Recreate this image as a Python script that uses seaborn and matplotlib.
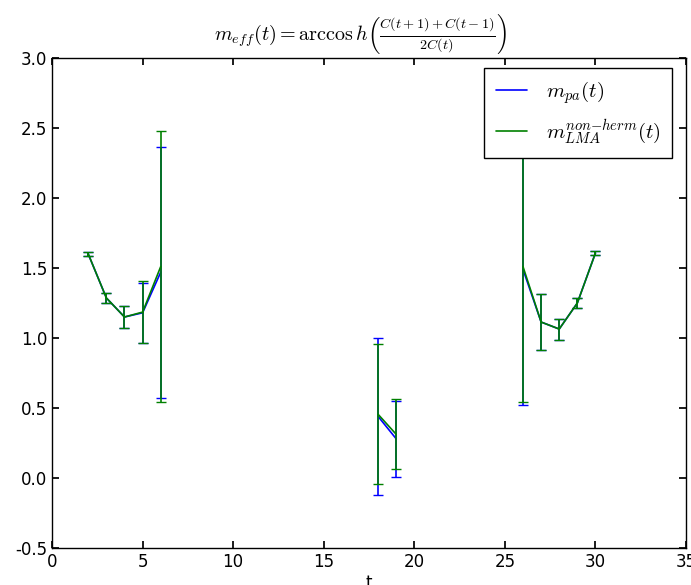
import numpy as np
import pandas as pd
import matplotlib
matplotlib.use("Agg")
import matplotlib.pyplot as plt
from matplotlib.lines import Line2D
import seaborn as sns

# Effective mass per time slice; NaN marks slices where arccosh is undefined
t = list(range(1, 32))
m_pa = [np.nan, 1.600, 1.286, 1.150, 1.180, 1.470,
        *[np.nan] * 11, 0.440, 0.280,
        *[np.nan] * 6, 1.490, 1.114, 1.064, 1.250, 1.607, np.nan]
m_pa_err = [np.nan, 0.012, 0.035, 0.080, 0.215, 0.895,
            *[np.nan] * 11, 0.560, 0.270,
            *[np.nan] * 6, 0.970, 0.200, 0.075, 0.035, 0.012, np.nan]
m_lma = [np.nan, 1.600, 1.286, 1.150, 1.185, 1.510,
         *[np.nan] * 11, 0.455, 0.312,
         *[np.nan] * 6, 1.510, 1.114, 1.064, 1.250, 1.607, np.nan]
m_lma_err = [np.nan, 0.012, 0.035, 0.080, 0.220, 0.970,
             *[np.nan] * 11, 0.500, 0.250,
             *[np.nan] * 6, 0.970, 0.200, 0.075, 0.035, 0.012, np.nan]

labels = [r"$m_{pa}(t)$", r"$m_{LMA}^{non{-}herm}(t)$"]
colors = ["#0000ff", "#008000"]

sns.set_theme(style="white", rc={
    "axes.edgecolor": "black",
    "axes.linewidth": 1.0,
    "xtick.direction": "in",
    "ytick.direction": "in",
    "xtick.top": True,
    "ytick.right": True,
    "xtick.bottom": True,
    "ytick.left": True,
    "xtick.major.size": 5,
    "ytick.major.size": 5,
    "xtick.color": "black",
    "ytick.color": "black",
    "text.color": "black",
    "axes.labelcolor": "black",
    "mathtext.fontset": "cm",
})
plt.rcParams["font.family"] = ["DejaVu Sans"]

def long_form(values, errs, name):
    df = pd.DataFrame({"t": t, "m": values, "err": errs})
    # consecutive valid slices form one connected segment
    valid = df["m"].notna()
    df["segment"] = (valid != valid.shift()).cumsum()
    df["series"] = name
    return df[valid]

df_pa = long_form(m_pa, m_pa_err, labels[0])
df_lma = long_form(m_lma, m_lma_err, labels[1])

fig = plt.figure(figsize=(6.91, 5.85), dpi=100)
ax = fig.add_axes([0.0753, 0.0632, 0.9175, 0.8377])

handles = []
for df, lab, col in [(df_pa, labels[0], colors[0]), (df_lma, labels[1], colors[1])]:
    sns.lineplot(data=df, x="t", y="m", units="segment", estimator=None,
                 color=col, lw=1.2, ax=ax, sort=True, legend=False)
    ax.errorbar(df["t"], df["m"], yerr=df["err"], fmt="none", ecolor=col,
                elinewidth=1.2, capsize=3.5, capthick=1.0)
    handles.append(Line2D([], [], color=col, lw=1.2, label=lab))

ax.set_xlim(0, 35)
ax.set_ylim(-0.5, 3.0)
ax.set_xticks(np.arange(0, 36, 5))
ax.set_yticks(np.arange(-0.5, 3.01, 0.5))
ax.set_xticklabels([f"{v:d}" for v in range(0, 36, 5)], fontsize=12)
ax.set_yticklabels([f"{v:.1f}" for v in np.arange(-0.5, 3.01, 0.5)], fontsize=12)
ax.set_xlabel("t", fontsize=12, labelpad=2)
ax.set_ylabel("")
ax.set_title(r"$m_{eff}(t) = \arccos h\left(\frac{C(t+1)+C(t-1)}{2C(t)}\right)$",
             fontsize=14.5, x=0.486, y=1.02, pad=6)

leg = ax.legend(handles=handles, loc="upper right", fontsize=15, frameon=True,
                fancybox=False, edgecolor="black", framealpha=1, borderpad=0.55,
                handlelength=1.5, handletextpad=0.9, labelspacing=0.55,
                bbox_to_anchor=(672 / 691, 1 - 68 / 585),
                bbox_transform=fig.transFigure, borderaxespad=0)
leg.get_frame().set_linewidth(1.0)

fig.savefig("out.png", dpi=100)
